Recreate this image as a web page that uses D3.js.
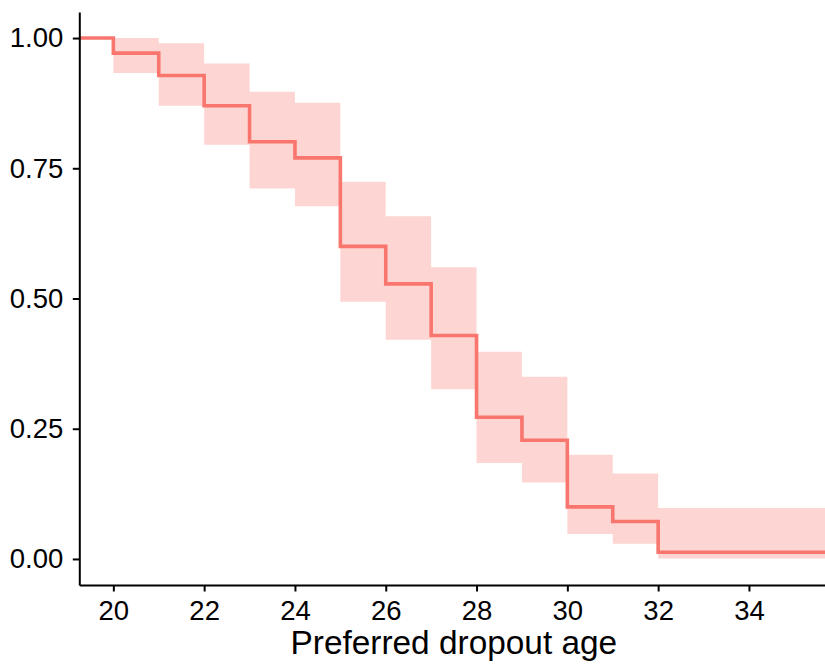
<!DOCTYPE html>
<html>
<head>
<meta charset="utf-8">
<script src="https://cdn.jsdelivr.net/npm/d3@7"></script>
<style>
	body { margin: 0; background: #fff; }
	text { font-family: "Liberation Sans", Arial, sans-serif; }
</style>
</head>
<body>
<div id="chart"></div>
<script>
// Step start times (age), survival estimate and confidence band
const times = [19, 20, 21, 22, 23, 24, 25, 26, 27, 28, 29, 30, 31, 32, 36]
const survival = [1.00, 0.971, 0.928, 0.870, 0.801, 0.770, 0.600, 0.528, 0.429, 0.272, 0.228, 0.100, 0.072, 0.013, 0.013]
const upper = [1.00, 1.00, 0.990, 0.951, 0.897, 0.876, 0.724, 0.658, 0.560, 0.398, 0.350, 0.200, 0.164, 0.098, 0.098]
const lower = [1.00, 0.933, 0.870, 0.795, 0.711, 0.677, 0.494, 0.421, 0.326, 0.184, 0.147, 0.048, 0.029, 0.001, 0.001]
const xTicks = [20, 22, 24, 26, 28, 30, 32, 34]
const yTicks = [0, 0.25, 0.5, 0.75, 1]
const xLabel = "Preferred dropout age"

const params = {
	width: 825, height: 666,
	left: 79.3, right: 828.4, top: 12, bottom: 585,
	red: "#F8766D"
}

const data = times.map((t, i) => ({ t: t, s: survival[i], hi: upper[i], lo: lower[i] }))

const svg = d3.select("#chart")
	.append("svg")
	.attr("width", params.width)
	.attr("height", params.height)

const xScale = d3.scaleLinear()
	.domain([19.25, 35.75])
	.range([params.left, params.right])

const yScale = d3.scaleLinear()
	.domain([-0.05, 1.05])
	.range([params.bottom, params.top])

svg.append("clipPath")
	.attr("id", "panel")
	.append("rect")
	.attr("x", params.left)
	.attr("y", params.top)
	.attr("width", params.right - params.left)
	.attr("height", params.bottom - params.top)

const plot = svg.append("g").attr("clip-path", "url(#panel)")

// confidence band
const area = d3.area()
	.x(d => xScale(d.t))
	.y0(d => yScale(d.lo))
	.y1(d => yScale(d.hi))
	.curve(d3.curveStepAfter)

plot.append("path")
	.datum(data)
	.attr("fill", params.red)
	.attr("fill-opacity", 0.3)
	.attr("d", area)

// survival step line
const line = d3.line()
	.x(d => xScale(d.t))
	.y(d => yScale(d.s))
	.curve(d3.curveStepAfter)

plot.append("path")
	.datum(data)
	.attr("fill", "none")
	.attr("stroke", params.red)
	.attr("stroke-width", 3.6)
	.attr("d", line)

// axes
const yAxis = svg.append("g")
	.attr("transform", `translate(${params.left}, 0)`)
	.call(d3.axisLeft(yScale).tickValues(yTicks).tickFormat(d3.format(".2f")).tickSize(6.5).tickPadding(9.5).tickSizeOuter(0))

const xAxis = svg.append("g")
	.attr("transform", `translate(0, ${params.bottom})`)
	.call(d3.axisBottom(xScale).tickValues(xTicks).tickSize(6.5).tickPadding(8.5).tickSizeOuter(0))

for (const ax of [xAxis, yAxis]) {
	ax.select(".domain").attr("stroke", "#000").attr("stroke-width", 2)
	ax.selectAll(".tick line").attr("stroke", "#000").attr("stroke-width", 2)
	ax.selectAll(".tick text")
		.attr("fill", "#000")
		.attr("font-size", "27.5px")
		.attr("font-family", "'Liberation Sans', Arial, sans-serif")
}

svg.append("text")
	.attr("x", xScale(27.5))
	.attr("y", 654)
	.attr("text-anchor", "middle")
	.attr("font-size", "33.4px")
	.attr("fill", "#000")
	.text(xLabel)
</script>
</body>
</html>
